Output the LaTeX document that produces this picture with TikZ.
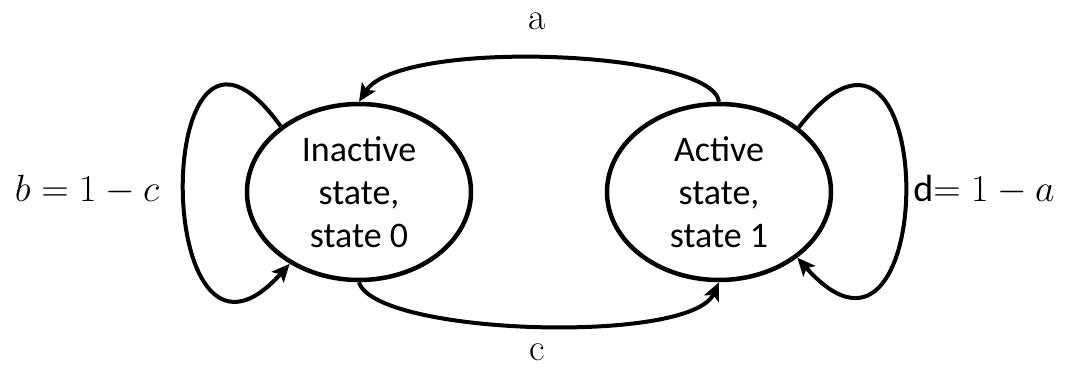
\RequirePackage{fix-cm}
\documentclass[tikz,border=0pt]{standalone}
\usepackage{fontspec}
\usepackage{tikz}
\usetikzlibrary{arrows.meta, shapes.geometric}
\newfontfamily\calibrilike{Carlito}
\tikzset{
  statenode/.style={draw, ellipse, line width=4.5pt, minimum width=224pt, minimum height=176pt,
      align=center, font=\calibrilike\fontsize{36}{43}\selectfont},
  trans/.style={line width=4pt, -{Stealth[length=18pt, width=16pt, inset=4pt]}},
  lbl/.style={inner sep=0pt, font=\fontsize{38}{45}\selectfont},
}
\begin{document}
\begin{tikzpicture}[x=1pt, y=1pt]
  \useasboundingbox (0,0) rectangle (1072,368);
  \node[statenode] (S0) at (359,176) {Inactive\\state,\\state 0};
  \node[statenode] (S1) at (719,176) {Active\\state,\\state 1};
  \draw[trans] (S1.north) .. controls (712,318) and (400,330) .. (S0.north);
  \draw[trans] (S0.south) .. controls (375,33) and (690,23) .. (S1.south);
  \draw[trans] (S0.140) .. controls (150,423) and (150,-52) .. (S0.226);
  \draw[trans] (S1.39) .. controls (941,423) and (941,-52) .. (S1.320);
  \node[lbl] (La) at (537,347) {a};
  \node[lbl] (Lc) at (537,16) {c};
  \node[lbl] (Lb) at (87,178) {$b=1-c$};
  \node[lbl] (Ld) at (984,178) {{\calibrilike d}$=1-a$};
\end{tikzpicture}
\end{document}
